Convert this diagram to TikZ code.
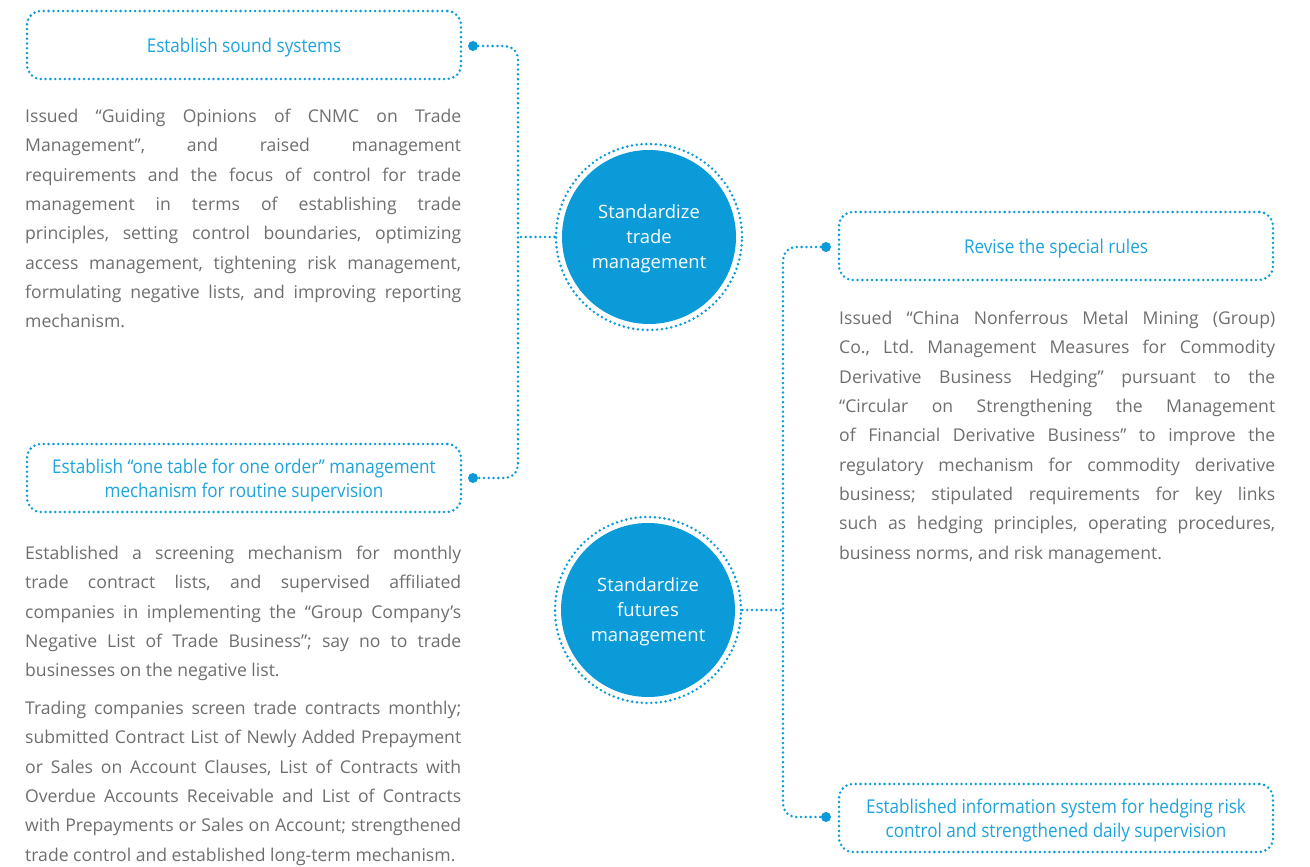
\documentclass[tikz,border=0pt]{standalone}
\usepackage{fontspec}
\setmainfont{Open Sans}
\newfontfamily\labelfont{Open Sans}[FakeStretch=0.9]
\usetikzlibrary{calc}
\definecolor{cblue}{HTML}{0B9BD9}
\definecolor{tblue}{HTML}{1EA3DD}
\definecolor{tgray}{HTML}{6E6E6E}
\hbadness=10000
\hfuzz=20pt
\frenchspacing
\tikzset{
  dotline/.style={draw=cblue, line width=2.8pt, line cap=round, dash pattern=on 0pt off 4.8pt},
  lbox/.style={dotline, rounded corners=14pt, minimum width=434pt, minimum height=68pt,
    align=center, text=tblue, font=\labelfont\fontsize{19}{24.5}\selectfont, inner sep=0pt,
    text depth=0pt},
  hub/.style={circle, dotline, minimum size=186pt, inner sep=0pt, align=center, text=white,
    font=\fontsize{18.4}{25}\selectfont, text depth=0pt,
    path picture={\fill[cblue] (path picture bounding box.center) circle (87pt);}},
  knob/.style={circle, fill=cblue, inner sep=0pt, minimum size=10pt},
  body/.style={anchor=north west, inner sep=0pt, text width=436pt, align=justify, text=tgray,
    font=\fontsize{17.6}{29.3}\selectfont},
  conn/.style={dotline, rounded corners=13pt}
}
\begin{document}
\begin{tikzpicture}[x=1pt,y=-1pt]
\useasboundingbox (0,0) rectangle (1310,867);

% left boxes
\node[lbox] (b1) at (244,45) {Establish sound systems};
\node[lbox] (b2) at (244,478) {Establish “one table for one order” management\\mechanism for routine supervision};
% right boxes
\node[lbox] (b3) at (1056,246) {Revise the special rules};
\node[lbox] (b4) at (1056,818) {Established information system for hedging risk\\control and strengthened daily supervision};

% hubs
\node[hub] (c1) at (649,237) {Standardize\\trade\\management};
\node[hub] (c2) at (648,610) {Standardize\\futures\\management};

% knobs
\node[knob] (d1) at (473,46) {};
\node[knob] (d2) at (473,478) {};
\node[knob] (d3) at (826,247) {};
\node[knob] (d4) at (826,817) {};

\coordinate (j1) at (518,237);
\coordinate (j2) at (783,610);

\draw[conn] (d1) -| (j1) |- (d2);
\draw[dotline] (c1) -- (j1);
\draw[conn] (d3) -| (j2) |- (d4);
\draw[dotline] (c2) -- (j2);

% body texts
\node[body] (t1) at (25,109) {Issued “Guiding Opinions of CNMC on Trade\linebreak
Management”, and raised management\linebreak
requirements and the focus of control for trade\linebreak
management in terms of establishing trade\linebreak
principles, setting control boundaries, optimizing\linebreak
access management, tightening risk management,\linebreak
formulating negative lists, and improving reporting\linebreak
mechanism.};

\node[body] (t2) at (25,546) {Established a screening mechanism for monthly\linebreak
trade contract lists, and supervised affiliated\linebreak
companies in implementing the “Group Company’s\linebreak
Negative List of Trade Business”; say no to trade\linebreak
businesses on the negative list.};

\node[body] (t3) at (25,701) {Trading companies screen trade contracts monthly;\linebreak
submitted Contract List of Newly Added Prepayment\linebreak
or Sales on Account Clauses, List of Contracts with\linebreak
Overdue Accounts Receivable and List of Contracts\linebreak
with Prepayments or Sales on Account; strengthened\linebreak
trade control and established long-term mechanism.};

\node[body] (t4) at (839,311) {Issued “China Nonferrous Metal Mining (Group)\linebreak
Co., Ltd. Management Measures for Commodity\linebreak
Derivative Business Hedging” pursuant to the\linebreak
“Circular on Strengthening the Management\linebreak
of Financial Derivative Business” to improve the\linebreak
regulatory mechanism for commodity derivative\linebreak
business; stipulated requirements for key links\linebreak
such as hedging principles, operating procedures,\linebreak
business norms, and risk management.};
\end{tikzpicture}
\end{document}
